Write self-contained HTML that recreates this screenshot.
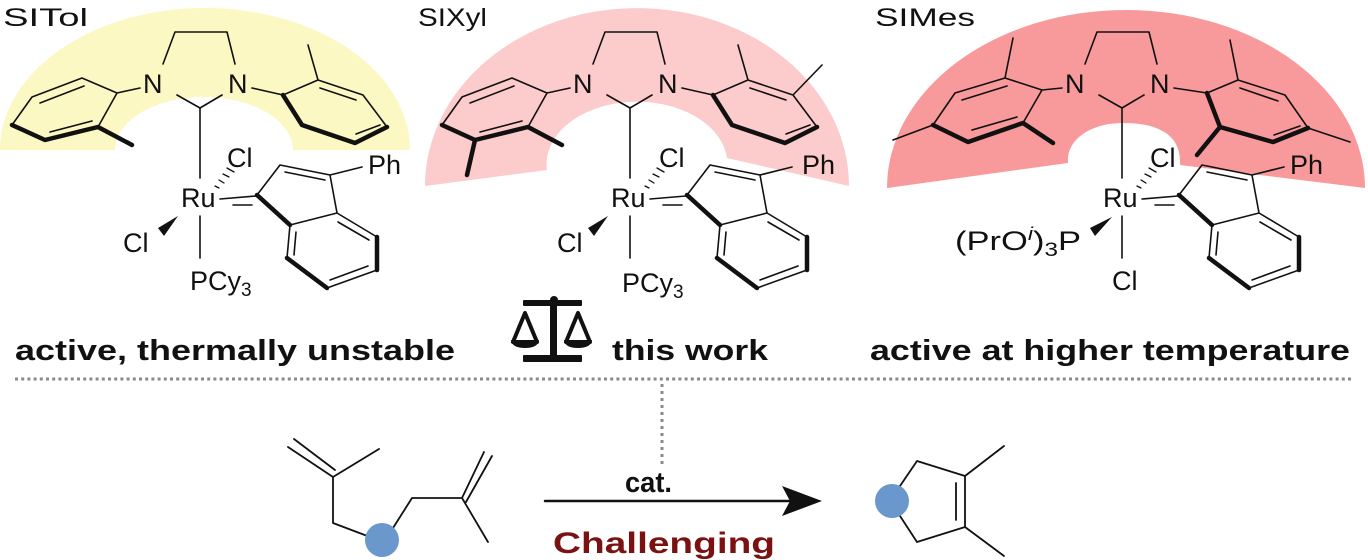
<!DOCTYPE html>
<html><head><meta charset="utf-8"><style>
html,body{margin:0;padding:0;background:#fff;}
svg{display:block;}
text{font-family:"Liberation Sans",Arial,sans-serif;fill:#111;}
.b{font-weight:bold;}
</style></head><body>
<svg width="1368" height="560" viewBox="0 0 1368 560" xmlns="http://www.w3.org/2000/svg">
<defs>
<g id="core" fill="none" stroke="#111" stroke-width="1.6" stroke-linejoin="round" stroke-linecap="round">
  <path d="M163,64 L175,32 L227,32 L235,64"/>
  <path d="M177,95 L200,108 L222,95 M200,108 L200,178"/>
  <path d="M200,216 L200,258" />
  <path d="M220,199 L256,196 M233,205 L252,205"/>
  <path d="M257,195 L290,225" stroke-width="4.5"/>
  <path d="M257,195 L280,165 L330,175 L337,213 L290,225"/>
  <path d="M285,172 L325,180"/>
  <path d="M290,225 L287,258 M296,232 L294,255"/>
  <path d="M287,258 L327,288" stroke-width="4.5"/>
  <path d="M327,288 L377,270 M330,280 L368,266"/>
  <path d="M377,270 L377,237" stroke-width="4.5"/>
  <path d="M377,237 L337,213 M369,240 L338,222"/>
  <path d="M330,175 L362,167"/>
  <path d="M215,186 l4,2 M219,180 l5,3 M223,174 l6,3 M227,168 l7,4" stroke-width="1.3"/>
</g>
<polygon id="wedgeL" points="178,216 158,228 164,236" fill="#111"/>
</defs>

<path d="M0,150 A205,142 0 0 1 410,150 L293,150 A89,53 0 0 0 115,150 Z" fill="#fbf8c3"/>
<path d="M425,186 A212,178 0 0 1 849,186 L727,158 A90,62 0 0 0 547,170 Z" fill="#fccbcb"/>
<path d="M887,188 A239,178 0 0 1 1365,188 L1180,165 C1182,130 1150,123 1123,123 C1090,123 1066,140 1068,163 Z" fill="#f89a9b"/>

<text x="3" y="26" font-size="25" textLength="85" lengthAdjust="spacingAndGlyphs">SITol</text>
<text x="418" y="26" font-size="25" textLength="69" lengthAdjust="spacingAndGlyphs">SIXyl</text>
<text x="875" y="26" font-size="25" textLength="100" lengthAdjust="spacingAndGlyphs">SIMes</text>

<use href="#core"/>
<use href="#wedgeL"/>
<g fill="none" stroke="#111" stroke-width="1.6" stroke-linejoin="round" stroke-linecap="round">
  <path d="M140,88 L117,93 L82,78 L32,97 L12,125 M98,127 L117,93 M84,86 L40,103 M92,121 L50,132"/>
  <path d="M12,125 L45,140 L98,127 M98,127 L132,145" stroke-width="4.5"/>
  <path d="M252,88 L283,95 L318,80 L363,95 L387,127 M318,80 L308,45 M320,88 L356,100 M380,125 L356,134"/>
  <path d="M387,127 L355,143 L302,125 L283,95" stroke-width="4.5"/>
</g>
<g font-size="27">
<text x="143" y="93">N</text><text x="228" y="93">N</text>
<text x="181" y="207">Ru</text>
<text x="227" y="167">Cl</text>
<text x="123" y="252">Cl</text>
<text x="190" y="290">PCy<tspan font-size="19" dy="6">3</tspan></text>
<text x="368" y="174">Ph</text>
</g>

<g transform="translate(430,0)">
<use href="#core"/>
<use href="#wedgeL"/>
<g fill="none" stroke="#111" stroke-width="1.6" stroke-linejoin="round" stroke-linecap="round">
  <path d="M140,88 L117,93 L82,78 L32,97 L12,125 M98,127 L117,93 M84,86 L40,103 M92,121 L50,132"/>
  <path d="M12,125 L45,140 L98,127 M98,127 L132,145 M45,140 L37,175" stroke-width="4.5"/>
  <path d="M252,88 L283,95 L318,80 L363,95 L387,127 M318,80 L308,45 M363,95 L392,65 M320,88 L356,100 M380,125 L356,134"/>
  <path d="M387,127 L355,143 L302,125 L283,95" stroke-width="4.5"/>
</g>
<g font-size="27">
<text x="143" y="93">N</text><text x="228" y="93">N</text>
<text x="181" y="207">Ru</text>
<text x="229" y="167">Cl</text>
<text x="127" y="252">Cl</text>
<text x="192" y="292">PCy<tspan font-size="19" dy="6">3</tspan></text>
<text x="372" y="174">Ph</text>
</g>
</g>

<g transform="translate(922,0)">
<use href="#core"/>
<polygon points="190,217 168,228 173,236" fill="#111"/>
<g fill="none" stroke="#111" stroke-width="1.6" stroke-linejoin="round" stroke-linecap="round">
  <path d="M140,88 L120,90 L83,78 L33,93 L11,125 M101,123 L120,90 M83,78 L91,38 M11,125 L-29,140 M85,86 L40,100 M95,117 L50,130"/>
  <path d="M11,125 L46,142 L101,123 M101,123 L131,143" stroke-width="4.5"/>
  <path d="M252,88 L285,93 L316,80 L363,95 L386,128 M316,80 L308,40 M386,128 L428,142 M318,88 L356,101 M378,126 L352,135"/>
  <path d="M386,128 L351,142 L298,127 L285,93 M298,127 L275,155" stroke-width="4.5"/>
</g>
<g font-size="27">
<text x="143" y="93">N</text><text x="228" y="93">N</text>
<text x="181" y="207">Ru</text>
<text x="228" y="167">Cl</text>
<text x="33" y="250" textLength="126" lengthAdjust="spacingAndGlyphs">(PrO<tspan font-size="18" dy="-10" font-style="italic">i</tspan><tspan dy="10">)</tspan><tspan font-size="19" dy="6">3</tspan><tspan dy="-6">P</tspan></text>
<text x="190" y="290">Cl</text>
<text x="368" y="174">Ph</text>
</g>
</g>

<text class="b" x="15" y="360" font-size="29" textLength="440" lengthAdjust="spacingAndGlyphs">active, thermally unstable</text>
<text class="b" x="612" y="360" font-size="29" textLength="156" lengthAdjust="spacingAndGlyphs">this work</text>
<text class="b" x="870" y="360" font-size="29" textLength="480" lengthAdjust="spacingAndGlyphs">active at higher temperature</text>

<g fill="#111" stroke="#111">
  <rect x="523" y="300" width="59" height="6" rx="1" stroke="none"/>
  <circle cx="554" cy="300" r="4" stroke="none"/>
  <rect x="550" y="300" width="7" height="57" stroke="none"/>
  <rect x="523" y="355" width="59" height="7" rx="1" stroke="none"/>
  <path d="M525,313 L513,342 L537,342 Z" fill="none" stroke-width="4" stroke-linejoin="round"/>
  <path d="M511,340 L539,340 Q538,348 525,348 Q512,348 511,340 Z" stroke="none"/>
  <path d="M578,313 L566,342 L590,342 Z" fill="none" stroke-width="4" stroke-linejoin="round"/>
  <path d="M564,340 L592,340 Q591,348 578,348 Q565,348 564,340 Z" stroke="none"/>
</g>

<line x1="15" y1="379" x2="1352" y2="379" stroke="#8a8a8a" stroke-width="3" stroke-dasharray="3 3.2"/>
<line x1="662" y1="384" x2="662" y2="466" stroke="#8a8a8a" stroke-width="3" stroke-dasharray="3 4"/>

<g fill="none" stroke="#111" stroke-width="1.8" stroke-linecap="round" stroke-linejoin="round">
  <path d="M288,447 L333,477 M294,439 L335,470 M333,477 L379,449 M333,477 L333,523 L370,537"/>
  <path d="M393,528 L412,498 L462,498 L488,542 M462,498 L484,452 M466,502 L492,456"/>
  <path d="M900,486 L917,461 L965,476 L965,527 L917,542 L900,516 M956,483 L956,520 M965,476 L1004,446 M965,527 L1004,556"/>
  <path d="M545,501 L790,501" stroke-width="2.5"/>
</g>
<polygon points="782,486 822,501 782,516 790,501" fill="#111"/>
<circle cx="382" cy="540" r="17" fill="#6a97cc"/>
<circle cx="892" cy="501" r="17" fill="#6a97cc"/>
<text class="b" x="625" y="492" font-size="29" textLength="47" lengthAdjust="spacingAndGlyphs">cat.</text>
<text class="b" x="553" y="553" font-size="30" textLength="222" lengthAdjust="spacingAndGlyphs" style="fill:#7a1212">Challenging</text>
</svg>
</body></html>
